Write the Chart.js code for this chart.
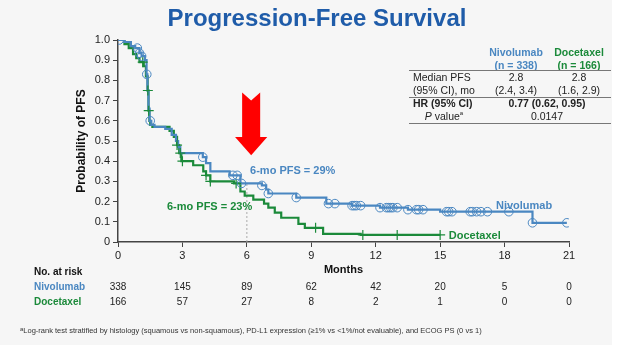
<!DOCTYPE html>
<html><head><meta charset="utf-8">
<script src="https://cdn.jsdelivr.net/npm/chart.js@4/dist/chart.umd.min.js"></script>
<style>
html,body{margin:0;padding:0;background:#fff;width:640px;height:360px;overflow:hidden;font-family:"Liberation Sans",Arial,sans-serif;color:#222}
#slide{position:absolute;left:0;top:0;width:612px;height:345px;background:#f6f6f6}
#c{position:absolute;left:0;top:0}
#title{position:absolute;left:0;width:634px;top:4px;text-align:center;font-weight:bold;font-size:24px;color:#1f5ca9;line-height:28px}
.t{position:absolute;font-size:10.5px;line-height:12.5px;white-space:nowrap}
.c{text-align:center}
.b{font-weight:bold}
.ln{position:absolute;left:409px;width:202px;height:1px;background:#777}
.blue{color:#4a87c1}.green{color:#1b8a3a}
sup{font-size:6px;vertical-align:top;line-height:6px}
#foot{position:absolute;left:20px;top:326px;font-size:7.5px;color:#333;white-space:nowrap}
</style></head>
<body>
<div id="slide"></div>
<canvas id="c" width="640" height="360"></canvas>
<div id="title">Progression-Free Survival</div>
<div class="t c b blue" style="left:487px;top:46px;width:58px">Nivolumab<br>(n = 338)</div>
<div class="t c b green" style="left:545px;top:46px;width:68px">Docetaxel<br>(n = 166)</div>
<div class="ln" style="top:70px"></div>
<div class="t" style="left:413px;top:71px">Median PFS<br>(95% CI), mo</div>
<div class="t c" style="left:487px;top:71px;width:58px">2.8<br>(2.4, 3.4)</div>
<div class="t c" style="left:545px;top:71px;width:68px">2.8<br>(1.6, 2.9)</div>
<div class="ln" style="top:97px"></div>
<div class="t b" style="left:413px;top:97px">HR (95% CI)</div>
<div class="t c b" style="left:487px;top:97px;width:120px">0.77 (0.62, 0.95)</div>
<div class="t c" style="left:409px;top:110px;width:70px"><i>P</i> value<sup>a</sup></div>
<div class="t c" style="left:487px;top:110px;width:120px">0.0147</div>
<div class="ln" style="top:123px"></div>
<div id="foot"><sup>a</sup>Log-rank test stratified by histology (squamous vs non-squamous), PD-L1 expression (≥1% vs &lt;1%/not evaluable), and ECOG PS (0 vs 1)</div>
<script>
const BLUE = '#4a87c1', GREEN = '#1b8a3a';
const months = [0, 3, 6, 9, 12, 15, 18, 21];
const yTicks = [0, 0.1, 0.2, 0.3, 0.4, 0.5, 0.6, 0.7, 0.8, 0.9, 1.0];
const riskNivo = [338, 145, 89, 62, 42, 20, 5, 0];
const riskDoc = [166, 57, 27, 8, 2, 1, 0, 0];

const nivoT = [0, 0.3, 0.6, 0.8, 1.0, 1.1, 1.25, 1.33, 1.37, 1.42, 1.47, 1.55, 1.7, 2.2, 2.5, 2.7, 2.8, 2.9, 3.95, 4.1, 4.3, 5.2, 5.7, 6.7, 6.9, 7.0, 8.3, 9.7, 10.9, 12.2, 13.5, 15.0, 19.3, 20.9];
const nivoS = [1.0, 0.99, 0.97, 0.96, 0.935, 0.92, 0.90, 0.83, 0.75, 0.66, 0.60, 0.58, 0.57, 0.56, 0.53, 0.50, 0.47, 0.44, 0.42, 0.39, 0.35, 0.33, 0.29, 0.28, 0.26, 0.24, 0.22, 0.19, 0.18, 0.17, 0.16, 0.15, 0.095, 0.095];
const docT = [0, 0.3, 0.5, 0.7, 0.85, 1.0, 1.2, 1.3, 1.38, 1.42, 1.46, 1.5, 1.6, 2.4, 2.6, 2.75, 2.85, 2.95, 3.5, 3.97, 4.1, 4.3, 5.4, 5.7, 5.9, 6.3, 6.8, 7.0, 7.3, 7.6, 8.4, 8.7, 9.55, 11.3, 15.0];
const docS = [1.0, 0.98, 0.96, 0.93, 0.91, 0.89, 0.87, 0.82, 0.75, 0.65, 0.60, 0.58, 0.57, 0.55, 0.52, 0.48, 0.44, 0.40, 0.38, 0.35, 0.33, 0.30, 0.29, 0.25, 0.23, 0.21, 0.19, 0.17, 0.145, 0.12, 0.09, 0.07, 0.04, 0.035, 0.035];
const nivoCens = [0.05, 0.9, 1.0, 1.1, 1.34, 1.5, 3.95, 5.35, 5.55, 5.75, 6.7, 7.0, 8.3, 9.8, 10.1, 10.9, 11.0, 11.1, 11.3, 12.2, 12.5, 12.6, 12.7, 12.8, 13.0, 13.5, 13.9, 14.0, 14.2, 15.3, 15.4, 15.55, 16.4, 16.5, 16.7, 16.9, 17.2, 18.2, 19.3, 20.9];
const docCens = [1.15, 1.39, 1.43, 2.75, 2.9, 3.0, 4.1, 4.3, 5.5, 9.2, 11.4, 13.0, 15.0];
const sixMonth = 6;

function stepAt(T, S, t) { let v = S[0]; for (let i = 0; i < T.length; i++) if (T[i] <= t) v = S[i]; return v; }
const pts = (T, S) => T.map((t, i) => ({ x: t, y: S[i] }));

const FONT = '"Liberation Sans", Arial, sans-serif';

const overlay = {
  id: 'overlay',
  afterDraw(chart) {
    const { ctx, scales: { x, y }, chartArea } = chart;
    ctx.save();
    const cx = 6.2, hw = 0.75, sw = 0.42;
    ctx.fillStyle = '#ff0000';
    ctx.beginPath();
    ctx.moveTo(x.getPixelForValue(cx - sw), y.getPixelForValue(0.74));
    ctx.lineTo(x.getPixelForValue(cx), y.getPixelForValue(0.70));
    ctx.lineTo(x.getPixelForValue(cx + sw), y.getPixelForValue(0.74));
    ctx.lineTo(x.getPixelForValue(cx + sw), y.getPixelForValue(0.52));
    ctx.lineTo(x.getPixelForValue(cx + hw), y.getPixelForValue(0.52));
    ctx.lineTo(x.getPixelForValue(cx), y.getPixelForValue(0.43));
    ctx.lineTo(x.getPixelForValue(cx - hw), y.getPixelForValue(0.52));
    ctx.lineTo(x.getPixelForValue(cx - sw), y.getPixelForValue(0.52));
    ctx.closePath();
    ctx.fill();
    ctx.font = 'bold 11px ' + FONT;
    ctx.textBaseline = 'middle';
    ctx.textAlign = 'left';
    ctx.fillStyle = BLUE;
    ctx.fillText('6-mo PFS = 29%', x.getPixelForValue(6.15), y.getPixelForValue(0.35));
    ctx.fillText('Nivolumab', x.getPixelForValue(17.6), y.getPixelForValue(0.178));
    ctx.fillStyle = GREEN;
    ctx.fillText('6-mo PFS = 23%', x.getPixelForValue(2.28), y.getPixelForValue(0.175));
    ctx.fillText('Docetaxel', x.getPixelForValue(15.4), y.getPixelForValue(0.03));
    ctx.fillStyle = '#111';
    ctx.textAlign = 'center';
    ctx.fillText('Months', (chartArea.left + chartArea.right) / 2, 270);
    ctx.textAlign = 'left';
    ctx.font = 'bold 10px ' + FONT;
    ctx.fillStyle = '#111';
    ctx.fillText('No. at risk', 34, 272);
    ctx.fillStyle = BLUE;
    ctx.fillText('Nivolumab', 34, 287);
    ctx.fillStyle = GREEN;
    ctx.fillText('Docetaxel', 34, 302);
    ctx.font = '10px ' + FONT;
    ctx.fillStyle = '#222';
    ctx.textAlign = 'center';
    months.forEach((m, i) => {
      const px = x.getPixelForValue(m);
      ctx.fillText(String(riskNivo[i]), px, 287);
      ctx.fillText(String(riskDoc[i]), px, 302);
    });
    ctx.restore();
  }
};

new Chart(document.getElementById('c'), {
  type: 'line',
  data: {
    datasets: [
      { data: nivoCens.map(t => ({ x: t, y: stepAt(nivoT, nivoS, t) })), showLine: false, pointStyle: 'circle', pointRadius: 4.3, pointBorderWidth: 1, pointBorderColor: BLUE, pointBackgroundColor: 'rgba(0,0,0,0)', order: 0 },
      { data: docCens.map(t => ({ x: t, y: stepAt(docT, docS, t) })), showLine: false, pointStyle: 'cross', pointRadius: 5, pointBorderWidth: 1.2, pointBorderColor: GREEN, order: 0 },
      { data: pts(nivoT, nivoS), stepped: true, borderColor: BLUE, borderWidth: 2.2, pointRadius: 0, fill: false, order: 1 },
      { data: pts(docT, docS), stepped: true, borderColor: GREEN, borderWidth: 2.2, pointRadius: 0, fill: false, order: 2 },
      { data: [{ x: sixMonth, y: 0 }, { x: sixMonth, y: stepAt(nivoT, nivoS, sixMonth) }], borderColor: '#aaaaaa', borderDash: [2, 2], borderWidth: 1, pointRadius: 0, order: 3 }
    ]
  },
  options: {
    responsive: false, animation: false,
    layout: { padding: { left: 70, top: 40, right: 71, bottom: 80 } },
    plugins: { legend: { display: false }, tooltip: { enabled: false } },
    scales: {
      x: {
        type: 'linear', min: 0, max: 21,
        afterBuildTicks: s => { s.ticks = months.map(v => ({ value: v })); },
        afterFit: s => { s.height = 38; },
        ticks: { font: { size: 11, family: FONT }, color: '#222', padding: 2, callback: v => String(v) },
        grid: { drawOnChartArea: false, drawTicks: true, tickLength: 5, color: '#444', lineWidth: 1 },
        border: { color: '#444', width: 1.5 }
      },
      y: {
        min: 0, max: 1,
        afterBuildTicks: s => { s.ticks = yTicks.map(v => ({ value: v })); },
        afterFit: s => { s.width = 48; },
        ticks: { font: { size: 11, family: FONT }, color: '#222', padding: 3, callback: v => v === 0 ? '0' : Number(v).toFixed(1) },
        grid: { drawOnChartArea: false, drawTicks: true, tickLength: 5, color: '#444', lineWidth: 1 },
        border: { color: '#444', width: 1.5 },
        title: { display: true, text: 'Probability of PFS', font: { size: 12, weight: 'bold', family: FONT }, color: '#111' }
      }
    }
  },
  plugins: [overlay]
});
</script>
</body></html>
